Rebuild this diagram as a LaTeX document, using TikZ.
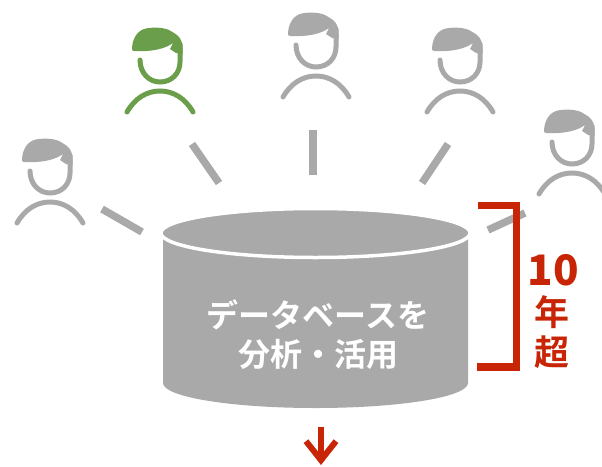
\documentclass[tikz,border=0pt]{standalone}
\usepackage{fontspec}
\usetikzlibrary{arrows.meta}
\newfontfamily\cjk{Noto Sans CJK JP}[BoldFont={Noto Sans CJK JP Bold}]
\newfontfamily\cjkheavy{Noto Sans CJK JP Black}
\definecolor{db_gray}{HTML}{A9A9A9}
\definecolor{user_green}{HTML}{6A9E4A}
\definecolor{mark_red}{HTML}{C72506}
\tikzset{
	person/.pic = {
		\fill (-27,-10) .. controls (-27,-20) and (-23,-28) .. (-15,-31)
			.. controls (-8,-33) and (3,-33) .. (10,-30)
			.. controls (14,-27) and (23.5,-25) .. (23.5,-12)
			-- (23.5,-6) -- (17,-7) -- (11,-11) -- (14,-17)
			.. controls (6,-11) and (-8,-8) .. (-25,-9) -- cycle;
		\draw [line width=5pt, line cap=round] (-19,0)
			.. controls (-19,13) and (-10,22) .. (1,22)
			.. controls (13,22) and (21,13) .. (21,2) -- (21,-16);
		\draw [line width=5pt, line cap=round] (-32,52)
			.. controls (-24,38) and (-12,31) .. (1,31)
			.. controls (14,31) and (26,38) .. (34,52);
	},
	person_g/.style = {
		color=db_gray
	},
	person_u/.style = {
		color=user_green
	},
	link_g/.style = {
		db_gray,
		line width=7.5pt
	},
	bracket_r/.style = {
		mark_red,
		line width=7.5pt,
		miter limit=10
	},
	arrow_r/.style = {
		mark_red,
		line width=6pt,
		-{Straight Barb[length=19pt,width=30pt,line width=6pt]}
	},
	label_db/.style = {
		align=center,
		inner sep=0pt,
		text=white,
		font=\cjk\bfseries\fontsize{32}{39}\selectfont
	},
	label_y/.style = {
		inner sep=0pt,
		text=mark_red,
		font=\cjk\bfseries\fontsize{35}{35}\selectfont
	},
}
\begin{document}
\begin{tikzpicture}[x=1pt,y=-1pt]
\useasboundingbox (0,0) rectangle (602,466);
% people
\pic [person_g] (p_a) at (49,171) {person};
\pic [person_u] (p_b) at (159,60) {person};
\pic [person_g] (p_c) at (315,45) {person};
\pic [person_g] (p_d) at (459,60) {person};
\pic [person_g] (p_e) at (571,142) {person};
% links
\coordinate (a_top) at (102,209);
\coordinate (a_end) at (142,232);
\coordinate (b_top) at (192,144);
\coordinate (b_end) at (219,183);
\coordinate (c_top) at (313,130);
\coordinate (c_end) at (313,175);
\coordinate (d_top) at (448,144);
\coordinate (d_end) at (422,183);
\coordinate (e_top) at (525,213);
\coordinate (e_end) at (488,230);
\draw [link_g] (a_top) -- (a_end);
\draw [link_g] (b_top) -- (b_end);
\draw [link_g] (c_top) -- (c_end);
\draw [link_g] (d_top) -- (d_end);
\draw [link_g] (e_top) -- (e_end);
% database
\fill [db_gray] (163,233) -- (163,383)
	.. controls (163,397) and (231,408) .. (315.5,408)
	.. controls (400,408) and (468,397) .. (468,383)
	-- (468,233) -- cycle;
\draw [white, fill=db_gray, line width=3.5pt] (315.5,233) ellipse [x radius=154.5, y radius=24.5];
\node [label_db] (db_text) at (318,334.5) {データベースを\\分析・活用};
% span
\coordinate (span_a) at (478,205.5);
\coordinate (span_b) at (516.5,205.5);
\coordinate (span_c) at (516.5,367);
\coordinate (span_d) at (477,367);
\draw [bracket_r] (span_a) -- (span_b) -- (span_c) -- (span_d);
\node [label_y, font=\cjkheavy\fontsize{42}{42}\selectfont] (y_num) at (553.5,270) {10};
\node [label_y] (y_nen) at (551.5,312.5) {年};
\node [label_y] (y_cho) at (551.5,352) {超};
% arrow
\coordinate (out_top) at (321,427);
\coordinate (out_end) at (321,465);
\draw [arrow_r] (out_top) -- (out_end);
\end{tikzpicture}
\end{document}
